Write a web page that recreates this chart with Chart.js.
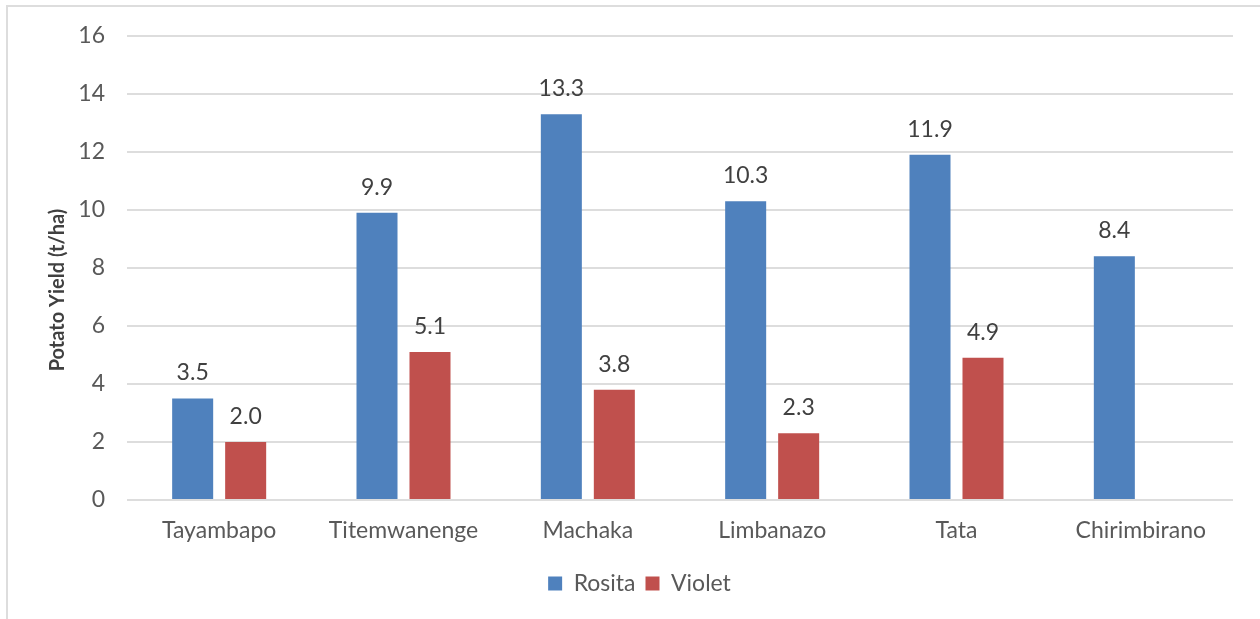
<!DOCTYPE html>
<html>
<head>
<meta charset="utf-8">
<script src="https://cdn.jsdelivr.net/npm/chart.js@4.4.1/dist/chart.umd.min.js"></script>
<style>
  html, body { margin: 0; padding: 0; background: #ffffff; overflow: hidden; }
  #wrap { position: relative; width: 1260px; height: 619px; }
  #frame { position: absolute; left: 6px; top: 5px; width: 1300px; height: 700px;
           border: 2px solid #dddddd; box-sizing: border-box; }
  #c { position: absolute; left: 0; top: 0; }
</style>
</head>
<body>
<div id="wrap">
  <div id="frame"></div>
  <canvas id="c" width="1260" height="619"></canvas>
</div>
<script>
// Potato yield per variety at each site (t/ha)
const categories = ['Tayambapo', 'Titemwanenge', 'Machaka', 'Limbanazo', 'Tata', 'Chirimbirano'];
const rosita = [3.5, 9.9, 13.3, 10.3, 11.9, 8.4];
const violet = [2.0, 5.1, 3.8, 2.3, 4.9, null];
const yTicks = [0, 2, 4, 6, 8, 10, 12, 14, 16];
const yTitle = 'Potato Yield (t/ha)';

const FONT = 'Lato, Calibri, "Open Sans", sans-serif';
const SIZE = 23;

// value labels above each bar
const valueLabels = {
  id: 'valueLabels',
  afterDatasetsDraw(chart) {
    const ctx = chart.ctx;
    ctx.save();
    ctx.font = SIZE + 'px ' + FONT;
    ctx.fillStyle = '#404040';
    ctx.textAlign = 'center';
    ctx.textBaseline = 'alphabetic';
    chart.data.datasets.forEach((ds, di) => {
      const meta = chart.getDatasetMeta(di);
      meta.data.forEach((bar, i) => {
        const v = ds.data[i];
        if (v === null || v === undefined) return;
        ctx.fillText(v.toFixed(1), bar.x, bar.y - 18);
      });
    });
    ctx.restore();
  }
};

// rotated axis title beside the value axis
const sideTitle = {
  id: 'sideTitle',
  afterDraw(chart) {
    const ctx = chart.ctx;
    ctx.save();
    ctx.translate(58, 290);
    ctx.rotate(-Math.PI / 2);
    ctx.font = 'bold 20px ' + FONT;
    ctx.fillStyle = '#404040';
    ctx.textAlign = 'center';
    ctx.textBaseline = 'middle';
    ctx.fillText(yTitle, 0, 0);
    ctx.restore();
  }
};

new Chart(document.getElementById('c'), {
  type: 'bar',
  data: {
    labels: categories,
    datasets: [
      { label: 'Rosita', data: rosita, backgroundColor: '#4f81bd' },
      { label: 'Violet', data: violet, backgroundColor: '#c0504d' }
    ]
  },
  options: {
    responsive: false,
    animation: false,
    devicePixelRatio: 1,
    categoryPercentage: 0.575,
    barPercentage: 0.774,
    layout: { padding: { top: 34, right: 27, bottom: 14, left: 46 } },
    plugins: {
      legend: {
        position: 'bottom',
        labels: {
          boxWidth: 14, boxHeight: 14, padding: 10,
          color: '#595959',
          font: { family: FONT, size: SIZE }
        }
      },
      tooltip: { enabled: false }
    },
    scales: {
      x: {
        grid: { display: false },
        border: { display: false },
        ticks: { color: '#595959', padding: 9, font: { family: FONT, size: SIZE } },
        afterFit(scale) { scale.height = 62; }
      },
      y: {
        min: 0, max: 16,
        afterBuildTicks(scale) { scale.ticks = yTicks.map(v => ({ value: v })); },
        grid: { color: '#dddddd', lineWidth: 2, drawTicks: false },
        border: { display: false },
        ticks: { color: '#595959', padding: 22, font: { family: FONT, size: SIZE } },
        afterFit(scale) { scale.width = 81; }
      }
    }
  },
  plugins: [valueLabels, sideTitle]
});
</script>
</body>
</html>
